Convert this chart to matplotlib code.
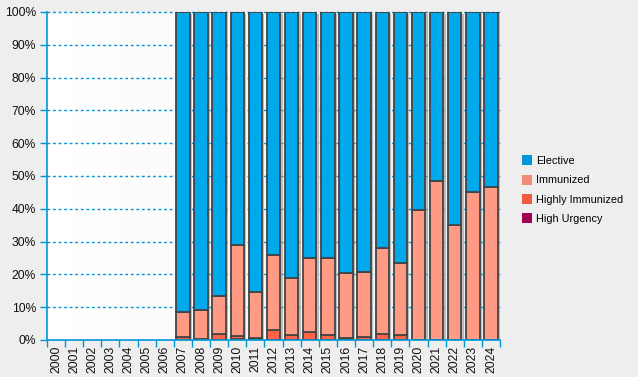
import matplotlib
matplotlib.use("Agg")
import matplotlib.pyplot as plt
import numpy as np
from matplotlib.lines import Line2D
from matplotlib.ticker import FixedLocator, FuncFormatter

plt.rcParams["font.family"] = ["Liberation Sans", "DejaVu Sans"]

years = [str(y) for y in range(2000, 2025)]
# percentages per year
high_urgency = [0]*7 + [0.0, 0.0, 0.0, 0.3, 0.0, 0.0, 0.0, 0.0, 0.0, 0.0, 0.0, 0.0, 0.0, 0.0, 0.0, 0.0, 0.0, 0.0]
highly_immunized = [0]*7 + [1.0, 0.4, 1.8, 0.9, 0.7, 3.0, 1.5, 2.3, 1.5, 0.6, 1.0, 1.8, 1.5, 0.0, 0.0, 0.0, 0.0, 0.0]
immunized_top = [0]*7 + [8.5, 9.0, 13.5, 29.0, 14.7, 26.0, 19.0, 25.0, 25.0, 20.5, 20.7, 28.0, 23.5, 39.5, 48.5, 35.0, 45.0, 46.5]
has_data = [0]*7 + [1]*18

hu = np.array(high_urgency)
hi = np.array(highly_immunized)
im = np.array(immunized_top) - hi - hu
el = np.where(np.array(has_data) > 0, 100 - np.array(immunized_top), 0)

c_el = "#00a8ec"
c_im = "#ff9a85"
c_hi = "#ff6347"
c_hu = "#a0004f"

fig = plt.figure(figsize=(6.38, 3.77), dpi=100)
fig.patch.set_facecolor("#eeeeee")
ax = fig.add_axes([47/638, 37/377, 453/638, 328/377])
n = len(years)
x = np.arange(n)
ax.set_xlim(-0.5, n - 0.5)
ax.set_ylim(0, 100)

# gradient background
grad = np.linspace(1.0, 0.93, 256).reshape(1, -1)
ax.imshow(grad, cmap="gray", vmin=0, vmax=1, aspect="auto",
          extent=(-0.5, n - 0.5, 0, 100), zorder=0)

for yv in range(10, 101, 10):
    ax.plot([-0.5, n - 0.5], [yv, yv], color="#0096d6", lw=1,
            linestyle=(0, (2, 2)), zorder=1, clip_on=False)

w = 0.74
mask = np.array(has_data) > 0
# shadows
ax.bar(x[mask] + 0.13, 100, width=w, bottom=-0.6, color="#999999", alpha=0.6,
       linewidth=0, zorder=2)
ec = "#444444"
lw = 1.3
ax.bar(x[mask], hu[mask], width=w, color=c_hu, edgecolor=ec, linewidth=lw, zorder=3)
ax.bar(x[mask], hi[mask], width=w, bottom=hu[mask], color=c_hi, edgecolor=ec, linewidth=lw, zorder=3)
ax.bar(x[mask], im[mask], width=w, bottom=(hu + hi)[mask], color=c_im, edgecolor=ec, linewidth=lw, zorder=3)
ax.bar(x[mask], el[mask], width=w, bottom=(hu + hi + im)[mask], color=c_el, edgecolor=ec, linewidth=lw, zorder=3)

for s in ["top", "right"]:
    ax.spines[s].set_visible(False)
for s in ["left", "bottom"]:
    ax.spines[s].set_color("#0096d6")
    ax.spines[s].set_linewidth(1.2)
    ax.spines[s].set_zorder(5)

ax.set_yticks(range(0, 101, 10))
ax.yaxis.set_major_formatter(FuncFormatter(lambda v, p: f"{int(v)}%"))
ax.tick_params(axis="y", colors="#0096d6", length=5, width=1, labelcolor="#111111",
               labelsize=8.7, pad=3)
ax.set_xticks(x)
ax.set_xticklabels(years, rotation=90, fontsize=8.7, color="#111111")
ax.tick_params(axis="x", which="major", length=0, pad=4)
ax.xaxis.set_minor_locator(FixedLocator(np.arange(-0.5, n, 1.0)))
ax.tick_params(axis="x", which="minor", colors="#0096d6", length=5, width=1)

handles = [Line2D([], [], marker="s", linestyle="none", markersize=7,
                  markerfacecolor=c, markeredgewidth=0) for c in
           ["#0096d6", "#f28c7a", "#f05a40", "#a0004f"]]
labels = ["Elective", "Immunized", "Highly Immunized", "High Urgency"]
fig.legend(handles, labels, loc="center left", bbox_to_anchor=(512/638, 1 - 190/377),
           frameon=False, fontsize=7.8, handletextpad=0.3, labelspacing=0.85,
           handlelength=1.0)

fig.savefig("out.png", dpi=100, facecolor=fig.get_facecolor())
